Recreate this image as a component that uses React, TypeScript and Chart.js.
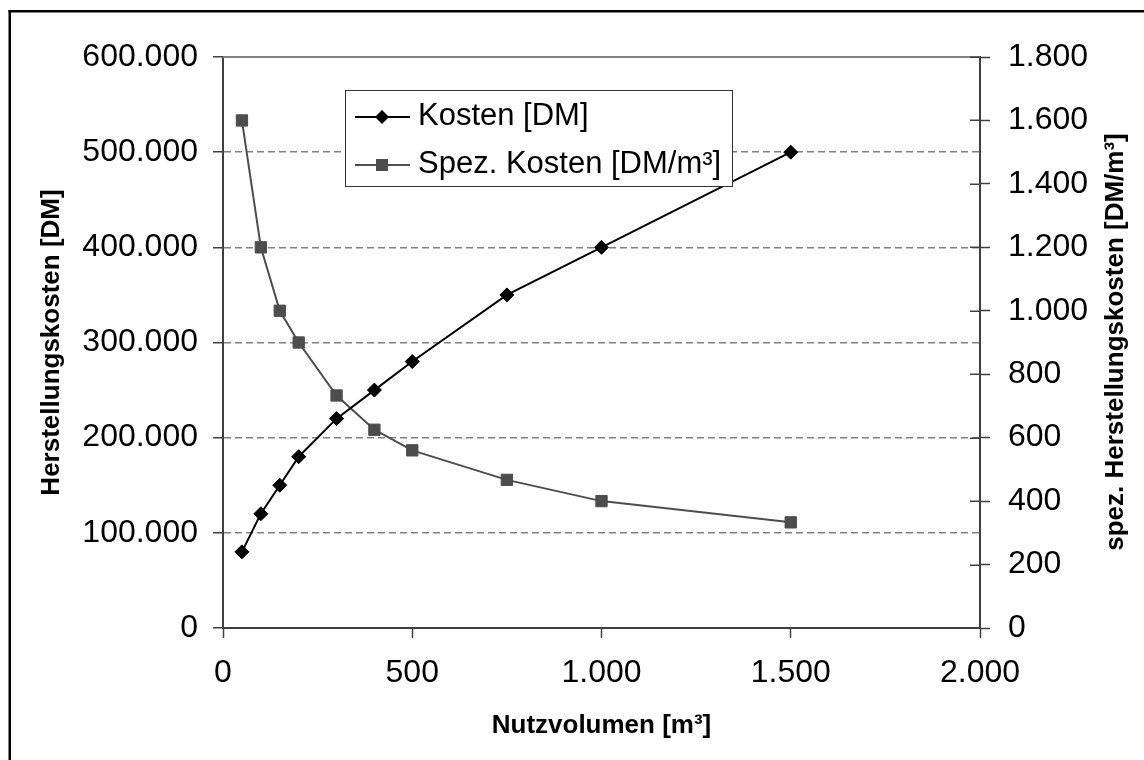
import React, { useEffect, useRef } from 'react';
import { Chart, registerables } from 'chart.js';

Chart.register(...registerables);

// ---- data ----
const volumes = [50, 100, 150, 200, 300, 400, 500, 750, 1000, 1500];
const kosten = [80000, 120000, 150000, 180000, 220000, 250000, 280000, 350000, 400000, 500000];
const spezKosten = [1600, 1200, 1000, 900, 733, 625, 560, 467, 400, 333];

const seriesLabels = ['Kosten [DM]', 'Spez. Kosten [DM/m³]'];
const xTitle = 'Nutzvolumen [m³]';
const yTitle = 'Herstellungskosten [DM]';
const y1Title = 'spez. Herstellungskosten [DM/m³]';

const xRange = [0, 2000, 500];
const yRange = [0, 600000, 100000];
const y1Range = [0, 1800, 200];

const FONT = '"Liberation Sans", Arial, Helvetica, sans-serif';
const AXIS = '#404040';
const GRID = '#808080';
const KOSTEN_COLOR = '#000000';
const SPEZ_COLOR = '#4d4d4d';

const fmt = (v: number) => String(Math.round(v)).replace(/\B(?=(\d{3})+(?!\d))/g, '.');

export default function App() {
  const ref = useRef<HTMLCanvasElement>(null);

  useEffect(() => {
    const canvas = ref.current;
    if (!canvas) return;

    const decor = {
      id: 'decor',
      beforeDraw(chart: any) {
        const ctx = chart.ctx;
        ctx.save();
        ctx.fillStyle = '#ffffff';
        ctx.fillRect(0, 0, chart.width, chart.height);
        ctx.fillStyle = '#000000';
        ctx.fillRect(8.5, 10, chart.width, 2.5);
        ctx.fillRect(8.5, 10, 2.5, chart.height);
        ctx.restore();
      },
      afterDatasetsDraw(chart: any) {
        const ctx = chart.ctx;
        const a = chart.chartArea;
        ctx.save();
        ctx.strokeStyle = GRID;
        ctx.lineWidth = 2;
        ctx.beginPath();
        ctx.moveTo(a.left, a.top);
        ctx.lineTo(a.right, a.top);
        ctx.stroke();
        const s = chart.scales.y1;
        ctx.strokeStyle = AXIS;
        ctx.lineWidth = 1.5;
        s.ticks.forEach((t: any) => {
          const py = Math.round(s.getPixelForValue(t.value)) + 0.25;
          ctx.beginPath();
          ctx.moveTo(a.right - 10, py);
          ctx.lineTo(a.right, py);
          ctx.stroke();
        });
        ctx.restore();
      },
      afterDraw(chart: any) {
        const ctx = chart.ctx;
        ctx.save();
        ctx.translate(1116, 342);
        ctx.rotate(-Math.PI / 2);
        ctx.fillStyle = '#000';
        ctx.font = `bold 26px ${FONT}`;
        ctx.textAlign = 'center';
        ctx.textBaseline = 'middle';
        ctx.fillText(y1Title, 0, 0);
        ctx.restore();

        ctx.save();
        const bx = 345.5, by = 90.5, bw = 387, bh = 96;
        ctx.fillStyle = '#ffffff';
        ctx.fillRect(bx, by, bw, bh);
        ctx.strokeStyle = '#333333';
        ctx.lineWidth = 1;
        ctx.strokeRect(bx, by, bw, bh);
        const rows = [
          { y: 117, color: KOSTEN_COLOR, shape: 'diamond', label: seriesLabels[0] },
          { y: 165, color: SPEZ_COLOR, shape: 'square', label: seriesLabels[1] },
        ];
        rows.forEach((r) => {
          ctx.strokeStyle = r.color;
          ctx.lineWidth = 2;
          ctx.beginPath();
          ctx.moveTo(355, r.y);
          ctx.lineTo(410, r.y);
          ctx.stroke();
          ctx.fillStyle = r.color;
          ctx.beginPath();
          if (r.shape === 'diamond') {
            const d = 7;
            ctx.moveTo(382 - d, r.y);
            ctx.lineTo(382, r.y - d);
            ctx.lineTo(382 + d, r.y);
            ctx.lineTo(382, r.y + d);
            ctx.closePath();
          } else {
            ctx.rect(382 - 6, r.y - 6, 12, 12);
          }
          ctx.fill();
          ctx.fillStyle = '#000';
          ctx.font = `31px ${FONT}`;
          ctx.textAlign = 'left';
          ctx.textBaseline = 'middle';
          ctx.fillText(r.label, 418, r.y - 1);
        });
        ctx.restore();
      },
    };

    const chart = new Chart(canvas, {
      type: 'line',
      data: {
        datasets: [
          {
            label: seriesLabels[0],
            data: volumes.map((v, i) => ({ x: v, y: kosten[i] })),
            yAxisID: 'y',
            borderColor: KOSTEN_COLOR,
            backgroundColor: KOSTEN_COLOR,
            borderWidth: 2,
            pointStyle: 'rectRot',
            pointRadius: 7,
            pointBorderWidth: 1,
            tension: 0,
          },
          {
            label: seriesLabels[1],
            data: volumes.map((v, i) => ({ x: v, y: spezKosten[i] })),
            yAxisID: 'y1',
            borderColor: SPEZ_COLOR,
            backgroundColor: SPEZ_COLOR,
            borderWidth: 2,
            pointStyle: 'rect',
            pointRadius: 8,
            pointBorderWidth: 1,
            tension: 0,
          },
        ],
      },
      options: {
        responsive: false,
        animation: false,
        devicePixelRatio: 1,
        layout: { padding: { top: 57, left: 0, right: 0, bottom: 0 } },
        plugins: { legend: { display: false }, tooltip: { enabled: false } },
        scales: {
          x: {
            type: 'linear',
            min: xRange[0],
            max: xRange[1],
            ticks: {
              stepSize: xRange[2],
              color: '#000',
              font: { family: FONT, size: 32 },
              padding: 16,
              callback: (v: any) => fmt(Number(v)),
              maxRotation: 0,
            },
            grid: {
              display: true,
              drawOnChartArea: false,
              drawTicks: true,
              tickLength: 10,
              tickColor: AXIS,
              tickWidth: 1.5,
            },
            border: { display: true, color: AXIS, width: 2 },
            title: {
              display: true,
              text: xTitle,
              color: '#000',
              font: { family: FONT, size: 26, weight: 'bold' },
              padding: { top: 0, bottom: 19 },
            },
            afterFit: (s: any) => {
              s.height = 132;
            },
          },
          y: {
            type: 'linear',
            position: 'left',
            min: yRange[0],
            max: yRange[1],
            ticks: {
              stepSize: yRange[2],
              color: '#000',
              font: { family: FONT, size: 32 },
              padding: 15,
              callback: (v: any) => fmt(Number(v)),
            },
            grid: {
              display: true,
              drawOnChartArea: true,
              drawTicks: true,
              tickLength: 10,
              tickColor: AXIS,
              tickWidth: 1.5,
              tickBorderDash: [],
              lineWidth: 1.5,
              color: (c: any) =>
                c.tick && (c.tick.value === yRange[0] || c.tick.value === yRange[1]) ? 'rgba(0,0,0,0)' : GRID,
            },
            border: { display: true, color: AXIS, width: 2, dash: [7, 4] },
            title: {
              display: true,
              text: yTitle,
              color: '#000',
              font: { family: FONT, size: 26, weight: 'bold' },
              padding: { top: 36, bottom: 0 },
            },
            afterFit: (s: any) => {
              s.width = 223;
            },
          },
          y1: {
            type: 'linear',
            position: 'right',
            min: y1Range[0],
            max: y1Range[1],
            ticks: {
              stepSize: y1Range[2],
              color: '#000',
              font: { family: FONT, size: 32 },
              padding: 18,
              callback: (v: any) => fmt(Number(v)),
            },
            grid: {
              display: true,
              drawOnChartArea: false,
              drawTicks: true,
              tickLength: 10,
              tickColor: AXIS,
              tickWidth: 1.5,
            },
            border: { display: true, color: AXIS, width: 2 },
            afterFit: (s: any) => {
              s.width = 164;
            },
          },
        },
      },
      plugins: [decor],
    } as any);

    return () => chart.destroy();
  }, []);

  return (
    <div style={{ position: 'absolute', left: 0, top: 0, width: 1144, height: 760, overflow: 'hidden' }}>
      <canvas ref={ref} width={1144} height={760} style={{ display: 'block', width: 1144, height: 760 }} />
    </div>
  );
}
